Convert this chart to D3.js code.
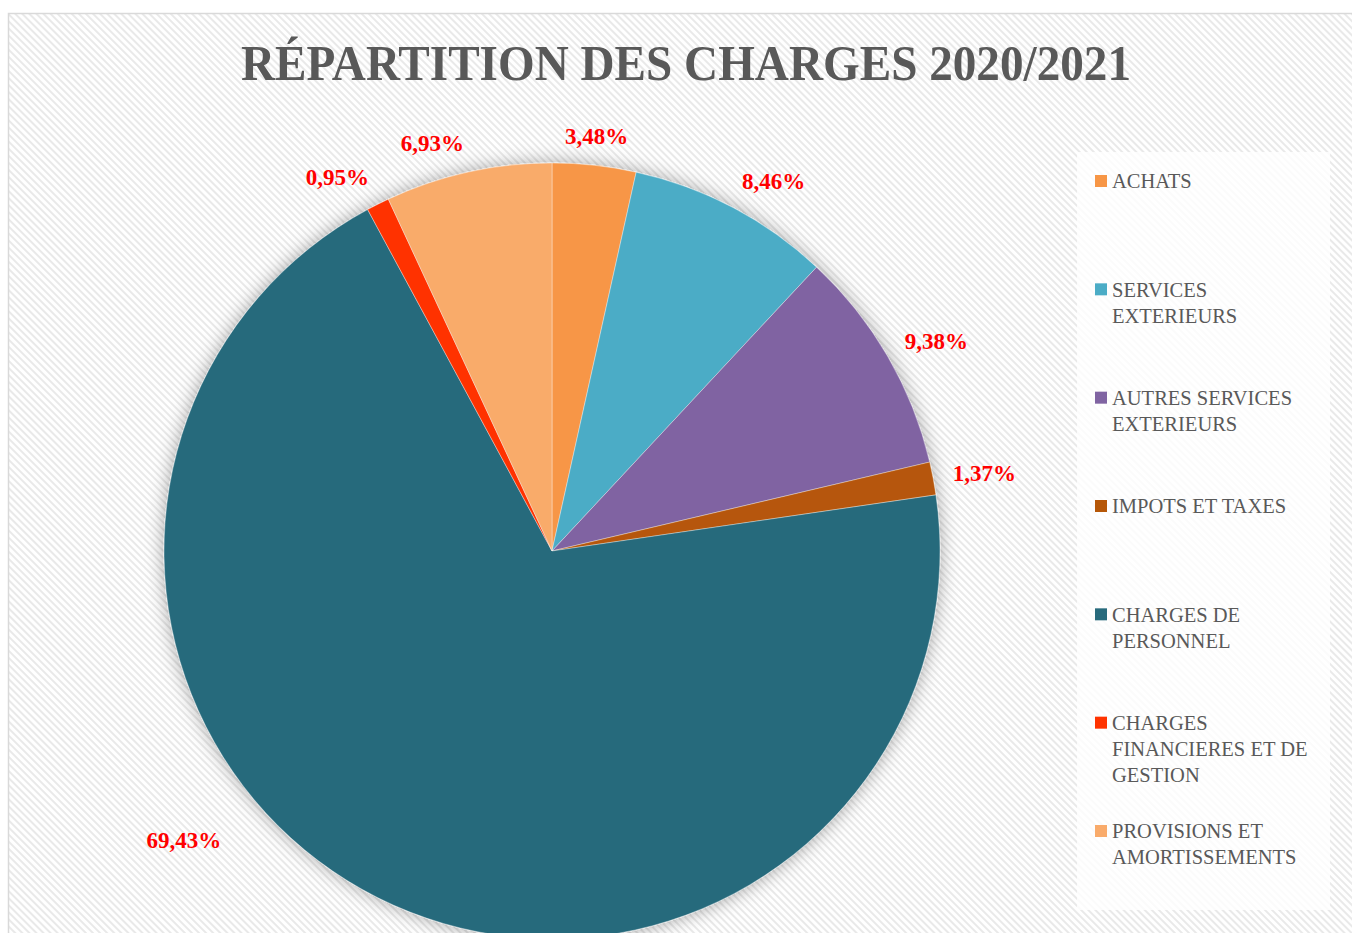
<!DOCTYPE html>
<html>
<head>
<meta charset="utf-8">
<script src="https://cdn.jsdelivr.net/npm/d3@7"></script>
<style>
  html, body { margin: 0; padding: 0; background: #fff; }
  svg { display: block; }
</style>
</head>
<body>
<svg id="canvas" width="1352" height="933"></svg>
<script>
// données
const categories = [
  "ACHATS",
  "SERVICES EXTERIEURS",
  "AUTRES SERVICES EXTERIEURS",
  "IMPOTS ET TAXES",
  "CHARGES DE PERSONNEL",
  "CHARGES FINANCIERES ET DE GESTION",
  "PROVISIONS ET AMORTISSEMENTS"
];
const pourcentages = [3.48, 8.46, 9.38, 1.37, 69.43, 0.95, 6.93];
const couleurs = ["#F79646", "#4BACC6", "#8064A2", "#B65708", "#276A7C", "#FF3300", "#F9AB6B"];
const titre = "RÉPARTITION DES CHARGES 2020/2021";

const width = 1352, height = 933;
const serif = "'Liberation Serif', 'DejaVu Serif', serif";
const svg = d3.select("#canvas");
const defs = svg.append("defs");

// fond hachuré
const pat = defs.append("pattern")
  .attr("id", "hachures")
  .attr("patternUnits", "userSpaceOnUse")
  .attr("width", 5).attr("height", 5)
  .attr("patternTransform", "rotate(-45)");
pat.append("rect").attr("width", 5).attr("height", 5).attr("fill", "#ffffff");
pat.append("rect").attr("width", 2).attr("height", 5).attr("fill", "#e9e9e9");

const ombre = defs.append("filter")
  .attr("id", "ombre")
  .attr("x", "-20%").attr("y", "-20%").attr("width", "140%").attr("height", "140%");
ombre.append("feGaussianBlur").attr("in", "SourceAlpha").attr("stdDeviation", 9).attr("result", "flou");
ombre.append("feFlood").attr("flood-color", "#000").attr("flood-opacity", 0.35);
ombre.append("feComposite").attr("in2", "flou").attr("operator", "in").attr("result", "ombreC");
const merge = ombre.append("feMerge");
merge.append("feMergeNode").attr("in", "ombreC");
merge.append("feMergeNode").attr("in", "SourceGraphic");

svg.append("rect")
  .attr("x", 8.5).attr("y", 13.5)
  .attr("width", width + 20).attr("height", height + 20)
  .attr("fill", "url(#hachures)")
  .attr("stroke", "#d9d9d9").attr("stroke-width", 1.5);

// titre
const t = svg.append("text")
  .attr("x", 686).attr("y", 80)
  .attr("text-anchor", "middle")
  .attr("font-family", serif)
  .attr("font-weight", "bold")
  .attr("font-size", 51)
  .attr("fill", "#595959")
  .text(titre);
if (Math.abs(t.node().getComputedTextLength() - 890) > 10) {
  t.attr("textLength", 890).attr("lengthAdjust", "spacingAndGlyphs");
}

// camembert
const cx = 552, cy = 551, R = 388;
const pie = d3.pie().sort(null).value(d => d);
const arcs = pie(pourcentages);
const arc = d3.arc().innerRadius(0).outerRadius(R);

const g = svg.append("g").attr("transform", `translate(${cx},${cy})`);
g.append("g").attr("filter", "url(#ombre)")
  .selectAll("path")
  .data(arcs)
  .join("path")
  .attr("d", arc)
  .attr("fill", (d, i) => couleurs[i])
  .attr("stroke", "#ffffff")
  .attr("stroke-width", 0.6)
  .attr("stroke-opacity", 0.6);

// étiquettes (extrémité extérieure)
const fmt = v => d3.format(".2f")(v).replace(".", ",") + "%";
const yMax = 840 - cy;
const gap = 20;
g.selectAll("text.etiq")
  .data(arcs)
  .join("text")
  .attr("class", "etiq")
  .attr("font-family", serif)
  .attr("font-weight", "bold")
  .attr("font-size", 23)
  .attr("fill", "#FF0000")
  .attr("text-anchor", "middle")
  .attr("dy", "0.35em")
  .text(d => fmt(d.data))
  .each(function(d) {
    const a = (d.startAngle + d.endAngle) / 2;
    const w = this.getBBox().width / 2, h = 10;
    const s = Math.sin(a);
    const sx = Math.abs(s) < 0.2 ? 0 : Math.sign(s);
    let x = s * (R + gap) + w * sx;
    let y = -Math.cos(a) * (R + gap) - h * Math.cos(a);
    if (y > yMax) {
      // garder l'étiquette dans la zone visible : glisser le long d'un cercle plus large
      const r2 = R + 80;
      y = yMax;
      x = Math.sign(s) * Math.sqrt(r2 * r2 - y * y);
    }
    d3.select(this).attr("x", x).attr("y", y);
  });

// légende
svg.append("rect")
  .attr("x", 1077).attr("y", 152)
  .attr("width", 253).attr("height", 758)
  .attr("fill", "#ffffff").attr("fill-opacity", 0.8);

const leg = svg.append("g").attr("font-family", serif).attr("font-size", 20.5).attr("fill", "#595959");
const yLeg = d3.scalePoint().domain(d3.range(categories.length)).range([181, 831]);
const maxW = 212;
categories.forEach((c, i) => {
  const y = yLeg(i);
  leg.append("rect")
    .attr("x", 1095).attr("y", y - 6)
    .attr("width", 12).attr("height", 12)
    .attr("fill", couleurs[i]);
  const txt = leg.append("text").attr("x", 1112).attr("y", y);
  const words = c.split(" ");
  let line = [];
  let ts = txt.append("tspan").attr("x", 1112).attr("dy", "0.35em");
  words.forEach(w => {
    line.push(w);
    ts.text(line.join(" "));
    if (ts.node().getComputedTextLength() > maxW && line.length > 1) {
      line.pop();
      ts.text(line.join(" "));
      line = [w];
      ts = txt.append("tspan").attr("x", 1112).attr("dy", 26).text(w);
    }
  });
});
</script>
</body>
</html>
